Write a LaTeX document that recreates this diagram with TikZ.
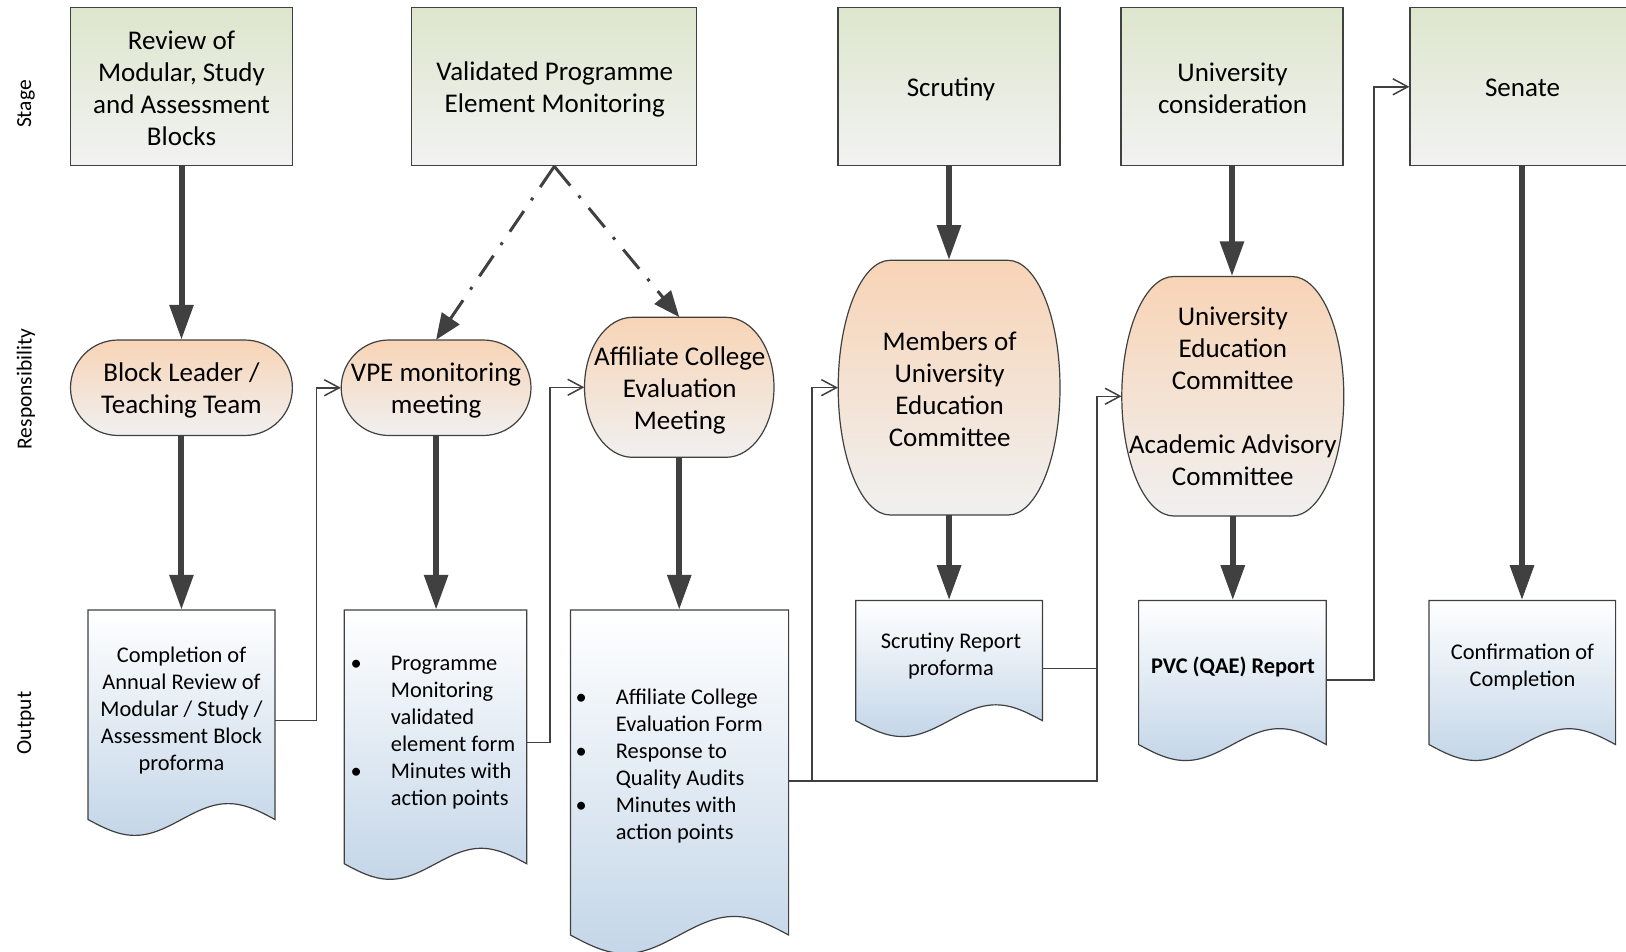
\documentclass[tikz,border=0pt]{standalone}
\usepackage{fontspec}
\setmainfont{Carlito}
\usetikzlibrary{arrows.meta,calc}
\definecolor{ln}{RGB}{64,64,64}
\definecolor{stop}{RGB}{221,230,205}
\definecolor{sbot}{RGB}{242,242,242}
\definecolor{rtop}{RGB}{248,212,182}
\definecolor{rbot}{RGB}{240,240,240}
\definecolor{dtop}{RGB}{255,255,255}
\definecolor{dbot}{RGB}{196,214,232}
\tikzset{
 stagebox/.style={draw=ln, line width=1.2pt, top color=stop, bottom color=sbot, inner sep=0pt, minimum height=158pt},
 bigtext/.style={align=center, inner sep=0pt, font=\fontsize{27}{32}\selectfont},
 respshape/.style={draw=ln, line width=1.2pt, top color=rtop, bottom color=rbot},
 geombox/.style={inner sep=0pt, draw=none},
 docshape/.style={draw=ln, line width=1.2pt, top color=dtop, bottom color=dbot},
 doctext/.style={align=center, inner sep=0pt, font=\fontsize{22.4}{27}\selectfont},
 bigarrow/.style={draw=ln, line width=6pt, -{Triangle[length=35pt,width=23pt]}},
 dasharrow/.style={draw=ln, line width=3pt, dash pattern=on 25pt off 13pt on 3pt off 13pt, -{Triangle[length=26pt,width=21pt]}},
 link/.style={draw=ln, line width=1.5pt, -{Straight Barb[length=15pt,width=16pt]}},
 plainlink/.style={draw=ln, line width=1.5pt},
 axislabel/.style={rotate=90, inner sep=0pt, font=\fontsize{21.5}{26}\selectfont},
}
\newcommand\termshape[6]{%
 \path[respshape] ({#1+#5},#2) -- ({#3-#5},#2)
  .. controls ({#3-#5+0.5523*#5},#2) and (#3,{#2+#6-0.5523*#6}) .. (#3,{#2+#6})
  -- (#3,{#4-#6})
  .. controls (#3,{#4-#6+0.5523*#6}) and ({#3-#5+0.5523*#5},#4) .. ({#3-#5},#4)
  -- ({#1+#5},#4)
  .. controls ({#1+#5-0.5523*#5},#4) and (#1,{#4-#6+0.5523*#6}) .. (#1,{#4-#6})
  -- (#1,{#2+#6})
  .. controls (#1,{#2+#6-0.5523*#6}) and ({#1+#5-0.5523*#5},#2) .. ({#1+#5},#2) -- cycle;}
\newcommand\docpath[4]{%
 \path[docshape] (#1,#2) -- (#3,#2) -- (#3,#4)
  sin ({#3-(#3-#1)/4},{#4-0.085*(#3-#1)}) cos ({(#1+#3)/2},#4)
  sin ({#1+(#3-#1)/4},{#4+0.085*(#3-#1)}) cos (#1,#4) -- cycle;}
\begin{document}
\begin{tikzpicture}[x=1pt,y=-1pt]
\useasboundingbox (0,0) rectangle (1626,952);
\clip (0,0) rectangle (1626,952);

% axis labels
\node[axislabel] (lstage) at (26,104) {Stage};
\node[axislabel] (lresp) at (26,389) {Responsibility};
\node[axislabel] (lout) at (26,723) {Output};

% stage boxes
\node[stagebox, minimum width=222pt] (s1) at (181.5,86.8) {};
\node[bigtext] (s1t) at (181.5,88.3) {Review of\\Modular, Study\\and Assessment\\Blocks};
\node[stagebox, minimum width=285pt] (s2) at (554.3,86.8) {};
\node[bigtext] (s2t) at (554.8,89.3) {Validated Programme\\Element Monitoring};
\node[stagebox, minimum width=222pt] (s3) at (949,86.8) {};
\node[bigtext] (s3t) at (951,89.3) {Scrutiny};
\node[stagebox, minimum width=222pt] (s4) at (1232,86.8) {};
\node[bigtext] (s4t) at (1232.5,88.8) {University\\consideration};
\node[stagebox, minimum width=224pt] (s5) at (1522,86.8) {};
\node[bigtext] (s5t) at (1522.5,88.3) {Senate};

% responsibility shapes
\termshape{70.5}{340}{292.4}{435.5}{47.75}{47.75}
\node[geombox, minimum width=222pt, minimum height=95.5pt] (r1) at (181.45,387.75) {};
\node[bigtext] (r1t) at (181.45,390.75) {Block Leader /\\Teaching Team};
\termshape{341.2}{340}{531}{435.5}{47.75}{47.75}
\node[geombox, minimum width=190pt, minimum height=95.5pt] (r2) at (436.1,387.75) {};
\node[bigtext] (r2t) at (436.1,390.75) {VPE monitoring\\meeting};
\termshape{584.5}{317.3}{774}{457.3}{48}{70}
\node[geombox, minimum width=189.5pt, minimum height=140pt] (r3) at (679.25,387.3) {};
\node[bigtext] (r3t) at (679.75,390.3) {Affiliate College\\Evaluation\\Meeting};
\termshape{838.2}{260.3}{1060}{515}{52}{127.35}
\node[geombox, minimum width=221.8pt, minimum height=254.7pt] (r4) at (949.1,387.65) {};
\node[bigtext] (r4t) at (949.6,389.65) {Members of\\University\\Education\\Committee};
\termshape{1121.8}{276.5}{1343.8}{516}{52}{119.75}
\node[geombox, minimum width=222pt, minimum height=239.5pt] (r5) at (1232.8,396.25) {};
\node[bigtext] (r5t) at (1232.8,396.25) {University\\Education\\Committee\\[32pt]Academic Advisory\\Committee};

% output documents
\docpath{88}{610}{275}{819.5}
\node[geombox, minimum width=187pt, minimum height=209.5pt] (d1) at (181.5,714.75) {};
\node[doctext] (d1t) at (181.5,710.8) {Completion of\\Annual Review of\\Modular / Study /\\Assessment Block\\proforma};

\docpath{344.3}{610}{526.8}{863.8}
\node[geombox, minimum width=182.5pt, minimum height=253.8pt] (d2) at (435.55,736.9) {};
\node[doctext, anchor=west, align=left] (d2t) at (350.5,733) {\begin{tabular}{@{}l@{\hspace{29pt}}l@{}}
\textbullet & Programme\\ & Monitoring\\ & validated\\ & element form\\
\textbullet & Minutes with\\ & action points\end{tabular}};

\docpath{570.4}{610}{788.6}{935}
\node[geombox, minimum width=218.2pt, minimum height=325pt] (d3) at (679.5,772.5) {};
\node[doctext, anchor=west, align=left] (d3t) at (575.5,767) {\begin{tabular}{@{}l@{\hspace{29pt}}l@{}}
\textbullet & Affiliate College\\ & Evaluation Form\\
\textbullet & Response to\\ & Quality Audits\\
\textbullet & Minutes with\\ & action points\end{tabular}};

\docpath{855.8}{600.4}{1042.5}{720.7}
\node[geombox, minimum width=186.7pt, minimum height=120.3pt] (d4) at (949.15,660.55) {};
\node[doctext] (d4t) at (951,656) {Scrutiny Report\\proforma};

\docpath{1138.6}{600.4}{1326.3}{744.6}
\node[geombox, minimum width=187.7pt, minimum height=144.2pt] (d5) at (1232.45,672.5) {};
\node[doctext] (d5t) at (1233,666.5) {\textbf{PVC (QAE) Report}};

\docpath{1429}{600.4}{1615.6}{744.6}
\node[geombox, minimum width=186.6pt, minimum height=144.2pt] (d6) at (1522.3,672.5) {};
\node[doctext] (d6t) at (1522.5,666.7) {Confirmation of\\Completion};

% thick arrows
\draw[bigarrow] (s1.south) -- (s1.south |- r1.north);
\draw[bigarrow] (r1.south) -- (r1.south |- d1.north);
\draw[bigarrow] (r2.south) -- (r2.south |- d2.north);
\draw[bigarrow] (r3.south) -- (r3.south |- d3.north);
\draw[bigarrow] (s3.south) -- (s3.south |- r4.north);
\draw[bigarrow] (r4.south) -- (r4.south |- d4.north);
\draw[bigarrow] (s4.south) -- (s4.south |- r5.north);
\draw[bigarrow] (r5.south) -- (r5.south |- d5.north);
\draw[bigarrow] (s5.south) -- (s5.south |- d6.north);

% dash-dot arrows
\draw[dasharrow] (s2.south) -- (r2.north);
\draw[dasharrow] (s2.south) -- (r3.north);

% thin links
\draw[link] ([yshift=-110.7pt]d1.north east) -- ++(41.3,0) |- (r2.west);
\draw[link] ([yshift=-132.5pt]d2.north east) -- ++(22.8,0) |- (r3.west);
\draw[link] ([yshift=-171pt]d3.north east) -- ++(23.4,0) |- (r4.west);
\draw[link] ([yshift=-171pt]d3.north east) -- ++(308.4,0) |- (r5.west);
\draw[plainlink] ([yshift=-68.5pt]d4.north east) -- ++(54.5,0);
\draw[link] ([yshift=-79.9pt]d5.north east) -- ++(47.7,0) |- (s5.west);
\end{tikzpicture}
\end{document}
